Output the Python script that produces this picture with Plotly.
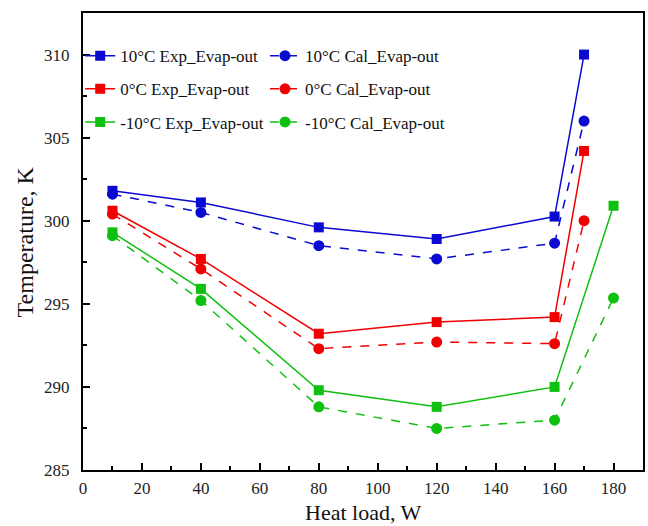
import plotly.graph_objects as go

x_a = [10, 40, 80, 120, 160, 170]
x_c = [10, 40, 80, 120, 160, 180]

blue_exp = [301.8, 301.1, 299.6, 298.9, 300.25, 310.0]
blue_cal = [301.6, 300.5, 298.5, 297.7, 298.65, 306.0]
red_exp = [300.6, 297.7, 293.2, 293.9, 294.2, 304.2]
red_cal = [300.4, 297.1, 292.3, 292.7, 292.6, 300.0]
green_exp = [299.3, 295.9, 289.8, 288.8, 290.0, 300.9]
green_cal = [299.1, 295.2, 288.8, 287.5, 288.0, 295.35]

names_exp = ["10°C Exp_Evap-out", "0°C Exp_Evap-out", "-10°C Exp_Evap-out"]
names_cal = ["10°C Cal_Evap-out", "0°C Cal_Evap-out", "-10°C Cal_Evap-out"]
colors = ["#0a0ad0", "#f00000", "#10c010"]
x_title = "Heat load, W"
y_title = "Temperature, K"

fig = go.Figure()
series = [
    (x_a, blue_exp, blue_cal),
    (x_a, red_exp, red_cal),
    (x_c, green_exp, green_cal),
]
for i, (xs, ye, yc) in enumerate(series):
    fig.add_trace(go.Scatter(x=xs, y=ye, mode="lines+markers", name=names_exp[i],
                             line=dict(color=colors[i], width=1.5),
                             marker=dict(symbol="square", size=10, color=colors[i]),
                             legend="legend", legendgroup="e%d" % i))
for i, (xs, ye, yc) in enumerate(series):
    fig.add_trace(go.Scatter(x=xs, y=yc, mode="lines+markers", name=names_cal[i],
                             line=dict(color=colors[i], width=1.5, dash="dash"),
                             marker=dict(symbol="circle", size=11, color=colors[i]),
                             legend="legend2", legendgroup="c%d" % i))

font_family = "Liberation Serif"
axis_common = dict(showline=True, linecolor="black", linewidth=2, mirror=True,
                   ticks="inside", ticklen=7, tickwidth=2, tickcolor="black",
                   showgrid=False, zeroline=False, automargin=False,
                   tickfont=dict(family=font_family, size=17, color="#222"))

leg_common = dict(yanchor="top", xanchor="left", bgcolor="rgba(0,0,0,0)",
                  font=dict(family=font_family, size=17), tracegroupgap=8,
                  itemwidth=30)

fig.update_layout(
    width=648, height=526,
    margin=dict(l=83, r=5, t=13, b=56),
    paper_bgcolor="white", plot_bgcolor="white",
    font=dict(family=font_family, color="#111"),
    xaxis=dict(range=[0, 190], dtick=20, tick0=0, ticklabelstandoff=2,
               minor=dict(dtick=10, ticks="inside", ticklen=4, tickwidth=2, tickcolor="black"),
               **axis_common),
    yaxis=dict(range=[285, 312.5], dtick=5, tick0=285, ticklabelstandoff=8,
               minor=dict(dtick=2.5, ticks="inside", ticklen=4, tickwidth=2, tickcolor="black"),
               **axis_common),
    legend=dict(x=-0.005, y=0.945, **leg_common),
    legend2=dict(x=0.325, y=0.945, **leg_common),
    annotations=[
        dict(text=x_title, xref="paper", yref="paper", x=0.5, y=-0.062,
             xanchor="center", yanchor="top", showarrow=False,
             font=dict(family=font_family, size=22, color="#111")),
        dict(text=y_title, xref="paper", yref="paper", x=-0.077, y=0.5,
             xanchor="right", yanchor="middle", textangle=-90, showarrow=False,
             font=dict(family=font_family, size=24, color="#111")),
    ],
)

fig.write_html("out.html")
